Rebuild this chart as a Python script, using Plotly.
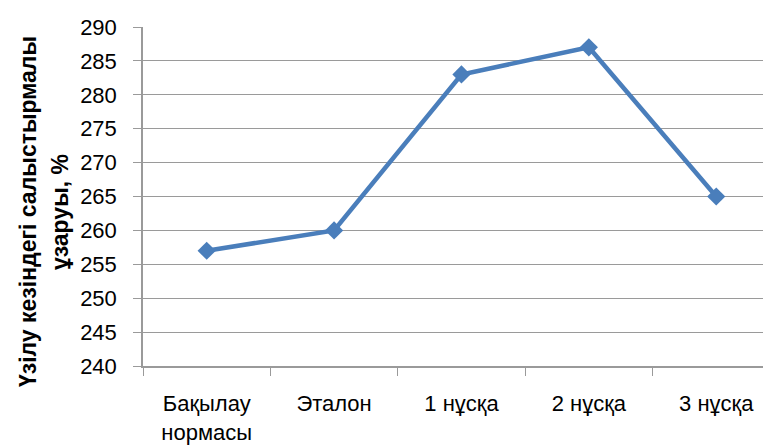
import plotly.graph_objects as go

categories = ["Бақылау<br>нормасы", "Эталон", "1 нұсқа", "2 нұсқа", "3 нұсқа"]
values = [257, 260, 283, 287, 265]
y_ticks = [240, 245, 250, 255, 260, 265, 270, 275, 280, 285, 290]
title_lines = ["Үзілу кезіндегі салыстырмалы", "ұзаруы, %"]

FONT = "Liberation Sans, Arial, sans-serif"
GRID = "#9a9a9a"

# page body has an 8px margin; figure is sized/placed to compensate
W, H = 763, 437
L, T, B = 135, 19, 79
PW = W - L

fig = go.Figure()
fig.add_trace(go.Scatter(
    x=categories, y=values, mode="lines+markers",
    line=dict(color="#4a7ebb", width=4.5),
    marker=dict(symbol="diamond", size=14, color="#4a7ebb"),
    cliponaxis=False,
))

fig.update_layout(
    width=W, height=H,
    margin=dict(l=L, r=0, t=T, b=B, autoexpand=False),
    paper_bgcolor="white", plot_bgcolor="white",
    showlegend=False,
    font=dict(family=FONT, size=22, color="black"),
    xaxis=dict(
        type="category", range=[-0.5, 4.43], automargin=False,
        tickson="boundaries", ticks="outside", ticklen=8, tickcolor=GRID,
        showline=True, linecolor=GRID, linewidth=1.5,
        showgrid=False, ticklabelstandoff=17,
        tickfont=dict(family=FONT, size=22),
    ),
    yaxis=dict(
        range=[240, 290], tickvals=y_ticks, automargin=False,
        ticks="outside", ticklen=8, tickcolor=GRID,
        showline=True, linecolor=GRID, linewidth=1.5,
        showgrid=True, gridcolor=GRID, gridwidth=1.2,
        zeroline=False, ticklabelstandoff=12,
        tickfont=dict(family=FONT, size=22),
    ),
    annotations=[
        dict(text="<b>" + title_lines[0] + "</b>",
             xref="paper", yref="paper", x=(20 - L) / PW, y=0.454,
             xanchor="center", yanchor="middle", textangle=-90,
             showarrow=False, font=dict(family=FONT, size=23)),
        dict(text="<b>" + title_lines[1] + "</b>",
             xref="paper", yref="paper", x=(52 - L) / PW, y=0.454,
             xanchor="center", yanchor="middle", textangle=-90,
             showarrow=False, font=dict(family=FONT, size=23)),
    ],
)

fig.write_html("out.html")
